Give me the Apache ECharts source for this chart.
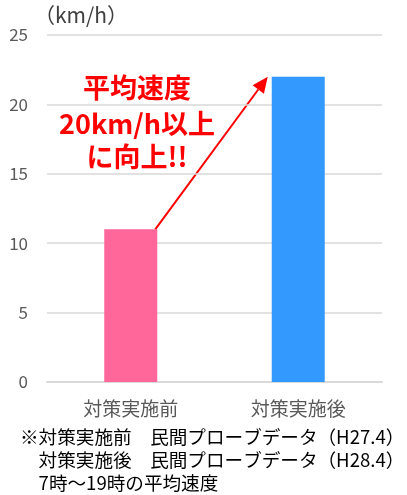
<!DOCTYPE html>
<html>
<head>
<meta charset="utf-8">
<script src="https://cdn.jsdelivr.net/npm/echarts@6/dist/echarts.min.js"></script>
<style>
html,body{margin:0;padding:0;background:#fff;}
#main{width:407px;height:495px;}
</style>
</head>
<body>
<div id="main"></div>
<script>
var categories = ['対策実施前', '対策実施後'];
var speeds = [11, 22];
var barColors = ['#FF6699', '#3399FF'];
var yTicks = { min: 0, max: 25, interval: 5 };
var unitLabel = '（km/h）';
var calloutLines = ['平均速度', '20km/h以上', 'に向上!!'];
var noteLines = [
  '※対策実施前　民間プローブデータ（H27.4）',
  '　対策実施後　民間プローブデータ（H28.4）',
  '　7時～19時の平均速度'
];

var FONT = '"Noto Sans CJK JP", "Noto Sans", sans-serif';
var BAR_W = 53;

var chart = echarts.init(document.getElementById('main'), null, { renderer: 'canvas' });

var option = {
  animation: false,
  backgroundColor: '#ffffff',
  grid: { left: 47, right: 25, top: 35, bottom: 113, containLabel: false },
  xAxis: {
    type: 'category',
    data: categories,
    axisLine: { show: true, lineStyle: { color: '#d9d9d9', width: 2 } },
    axisTick: { show: false },
    axisLabel: { color: '#595959', fontSize: 19, fontFamily: FONT, margin: 17 }
  },
  yAxis: {
    type: 'value',
    min: yTicks.min, max: yTicks.max, interval: yTicks.interval,
    axisLine: { show: false },
    axisTick: { show: false },
    splitLine: { lineStyle: { color: '#d9d9d9', width: 1.5 } },
    axisLabel: { color: '#595959', fontSize: 17, fontFamily: FONT, margin: 19 }
  },
  series: [{
    type: 'bar',
    barWidth: BAR_W,
    data: speeds.map(function (v, i) { return { value: v, itemStyle: { color: barColors[i] } }; })
  }],
  graphic: []
};
chart.setOption(option);

// compute arrow endpoints from data
var p0 = chart.convertToPixel({ seriesIndex: 0 }, [0, speeds[0]]);
var p1 = chart.convertToPixel({ seriesIndex: 0 }, [1, speeds[1]]);
var start = [p0[0] + BAR_W / 2 - 2, p0[1]];
var tip = [p1[0] - BAR_W / 2 - 4, p1[1]];
var dx = tip[0] - start[0], dy = tip[1] - start[1];
var len = Math.sqrt(dx * dx + dy * dy);
var ux = dx / len, uy = dy / len;
var headLen = 16, headW = 7;
var base = [tip[0] - ux * headLen, tip[1] - uy * headLen];
var nx = -uy, ny = ux;

var graphics = [];
graphics.push({
  type: 'text', left: 34, top: 5,
  style: { text: unitLabel, fill: '#404040', font: '21px ' + FONT }
});
graphics.push({
  type: 'line',
  shape: { x1: start[0], y1: start[1], x2: base[0], y2: base[1] },
  style: { stroke: '#FF0000', lineWidth: 2 }
});
graphics.push({
  type: 'polygon',
  shape: { points: [tip, [base[0] + nx * headW, base[1] + ny * headW], [base[0] - nx * headW, base[1] - ny * headW]] },
  style: { fill: '#FF0000' }
});
var calloutY = [88, 124, 157];
calloutLines.forEach(function (t, i) {
  graphics.push({
    type: 'text', x: 137, y: calloutY[i],
    style: { text: t, fill: '#FF0000', font: 'bold 27px ' + FONT, textAlign: 'center', textVerticalAlign: 'middle' }
  });
});
var noteY = [437, 460, 483];
noteLines.forEach(function (t, i) {
  graphics.push({
    type: 'text', x: 20, y: noteY[i],
    style: { text: t, fill: '#000000', font: '18.6px ' + FONT, textAlign: 'left', textVerticalAlign: 'middle' }
  });
});
chart.setOption({ graphic: graphics });
</script>
</body>
</html>
